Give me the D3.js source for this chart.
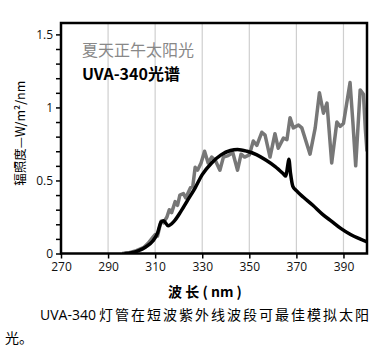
<!DOCTYPE html>
<html>
<head>
<meta charset="utf-8">
<script src="https://cdn.jsdelivr.net/npm/d3@7"></script>
<style>
  body { margin: 0; background: #fff; }
  svg { display: block; font-family: "Open Sans", "Noto Sans CJK SC", sans-serif; }
</style>
</head>
<body>
<div id="chart"></div>
<script>
// sunlight (noon summer) spectrum, nm / W/m2/nm
const sunNm = [296, 299, 302, 305, 307, 309, 310, 311, 312.5, 313.5, 315, 316, 317, 318.5, 319.5,
  320.5, 322, 323, 325, 326, 327, 328, 329.5, 331, 332.5, 334, 335.5, 337.5, 339, 341, 343, 345,
  346.5, 348, 350, 351.7, 353.2, 355.3, 356.7, 358.8, 360.9, 362.3, 364.5, 366, 367.3, 368.7,
  370.9, 372.3, 375.8, 378, 379.8, 381.5, 383, 385, 387.2, 388.6, 390, 392.8, 394, 395.2, 397.1,
  398.5, 399.3, 400];
const sunVal = [0, 0.005, 0.02, 0.04, 0.07, 0.11, 0.13, 0.12, 0.22, 0.21, 0.25, 0.3, 0.28, 0.355, 0.33,
  0.4, 0.41, 0.38, 0.45, 0.46, 0.59, 0.57, 0.62, 0.7, 0.62, 0.66, 0.64, 0.57, 0.66, 0.67, 0.69, 0.57,
  0.68, 0.66, 0.675, 0.77, 0.74, 0.83, 0.81, 0.66, 0.82, 0.72, 0.79, 0.78, 0.93, 0.86,
  0.88, 0.86, 0.68, 0.86, 1.1, 0.96, 1.03, 0.62, 0.9, 0.87, 0.89, 1.17, 0.9, 0.6, 1.12,
  1.09, 0.85, 0.7];

// UVA-340 lamp spectrum
const uvaNm = [297, 300, 303, 306, 309, 311, 312.5, 313.5, 315.5, 318, 321, 324, 327, 330, 334, 338,
  342, 345, 349, 353, 357, 361, 364.5, 365.5, 366.3, 366.8, 367.5, 368.5, 370, 373, 377, 381, 385,
  389, 393, 397, 400];
const uvaVal = [0, 0.005, 0.02, 0.045, 0.085, 0.14, 0.215, 0.225, 0.19, 0.22, 0.29, 0.37, 0.45, 0.54, 0.62, 0.675,
  0.705, 0.712, 0.7, 0.677, 0.64, 0.595, 0.545, 0.53, 0.6, 0.645, 0.55, 0.46, 0.43, 0.385, 0.33, 0.27, 0.22,
  0.17, 0.13, 0.1, 0.08];

const xTicks = [270, 290, 310, 330, 350, 370, 390];
const yLabels = [0, 0.5, 1, 1.5];
const yMinor = d3.range(0, 16).map(i => i / 10);

const margin = {top: 23, right: 14, bottom: 96.5, left: 61},
    width = 381 - margin.left - margin.right,
    height = 350 - margin.top - margin.bottom;

const svg = d3.select("#chart")
    .append("svg")
    .attr("width", 381)
    .attr("height", 350)
    .append("g")
    .attr("transform", `translate(${margin.left},${margin.top})`);

const x = d3.scaleLinear().domain([270, 400]).range([0, width]);
const y = d3.scaleLinear().domain([0, 1.578]).range([height, 0]);

// gridlines
svg.append("g")
    .selectAll("line")
    .data(xTicks.slice(1))
    .join("line")
    .attr("x1", d => x(d)).attr("x2", d => x(d))
    .attr("y1", 0).attr("y2", height)
    .attr("stroke", "#cfcfcf")
    .attr("stroke-width", 1.2);

svg.append("clipPath")
    .attr("id", "plot")
    .append("rect")
    .attr("width", width)
    .attr("height", height);

const sunData = sunNm.map((d, i) => [d, sunVal[i]]);
const uvaData = uvaNm.map((d, i) => [d, uvaVal[i]]);

// sunlight line
svg.append("path")
    .datum(sunData)
    .attr("clip-path", "url(#plot)")
    .attr("fill", "none")
    .attr("stroke", "#777")
    .attr("stroke-width", 3.5)
    .attr("stroke-linejoin", "round")
    .attr("d", d3.line().x(d => x(d[0])).y(d => y(d[1])));

// UVA-340 line
svg.append("path")
    .datum(uvaData)
    .attr("clip-path", "url(#plot)")
    .attr("fill", "none")
    .attr("stroke", "#000")
    .attr("stroke-width", 3.5)
    .attr("stroke-linejoin", "round")
    .attr("d", d3.line().curve(d3.curveMonotoneX).x(d => x(d[0])).y(d => y(d[1])));

// frame
svg.append("rect")
    .attr("width", width)
    .attr("height", height)
    .attr("fill", "none")
    .attr("stroke", "#000")
    .attr("stroke-width", 2.5);

// X axis
const xAxis = svg.append("g")
    .attr("transform", `translate(0,${height})`)
    .call(d3.axisBottom(x).tickValues(xTicks).tickSize(5).tickFormat(d3.format("d")));
xAxis.select(".domain").remove();
xAxis.selectAll("line").attr("stroke-width", 1.5);
xAxis.selectAll("text").attr("font-size", 12).attr("fill", "#111").attr("dy", "0.8em")
    .attr("font-family", "'Open Sans', sans-serif");

// Y axis
const yAxis = svg.append("g")
    .call(d3.axisLeft(y).tickValues(yMinor).tickSize(5)
        .tickFormat(d => yLabels.some(v => Math.abs(v - d) < 1e-9) ? d3.format("~g")(d) : ""));
yAxis.select(".domain").remove();
yAxis.selectAll("line").attr("stroke-width", 1.5);
yAxis.selectAll("text").attr("font-size", 12).attr("fill", "#111")
    .attr("font-family", "'Open Sans', sans-serif");

// legend titles
svg.append("text")
    .attr("x", 21).attr("y", 33)
    .attr("font-size", 16)
    .attr("fill", "#888")
    .attr("font-family", "'Noto Sans CJK SC', sans-serif")
    .text("夏天正午太阳光");

svg.append("text")
    .attr("x", 21).attr("y", 57)
    .attr("font-size", 16)
    .attr("font-weight", "bold")
    .attr("fill", "#000")
    .attr("font-family", "'Noto Sans CJK SC', sans-serif")
    .text("UVA-340光谱");

// Y axis title
svg.append("text")
    .attr("transform", `translate(-36,${height / 2 - 5}) rotate(-90)`)
    .attr("text-anchor", "middle")
    .attr("font-size", 12.5)
    .attr("font-family", "'Noto Sans CJK SC', sans-serif")
    .text("辐照度—W/m²/nm");

// X axis title
svg.append("text")
    .attr("x", 144).attr("y", height + 43)
    .attr("text-anchor", "middle")
    .attr("font-size", 14)
    .attr("font-weight", "bold")
    .attr("font-family", "'Noto Sans CJK SC', sans-serif")
    .text("波 长 ( nm )");

// caption
const cap = svg.append("text")
    .attr("x", -21).attr("y", height + 66)
    .attr("font-size", 14)
    .attr("font-family", "'Noto Sans CJK SC', sans-serif");
cap.append("tspan").attr("font-family", "'Open Sans', sans-serif").text("UVA-340");
cap.append("tspan").attr("dx", 3).attr("letter-spacing", 2).text("灯管在短波紫外线波段可最佳模拟太阳");

svg.append("text")
    .attr("x", -56).attr("y", height + 89)
    .attr("font-size", 14)
    .attr("font-family", "'Noto Sans CJK SC', sans-serif")
    .text("光。");
</script>
</body>
</html>
